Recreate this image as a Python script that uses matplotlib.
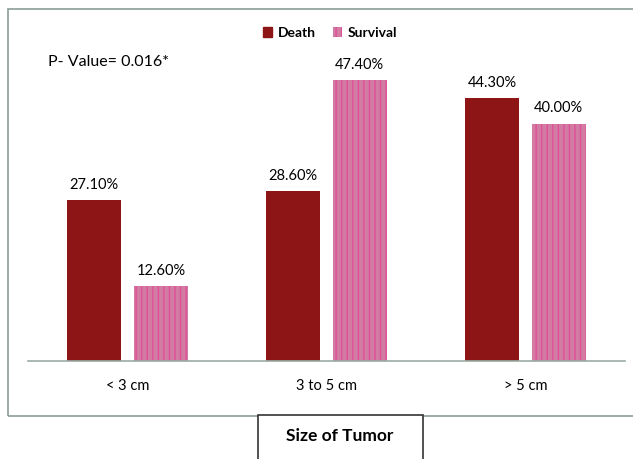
import numpy as np
import matplotlib.pyplot as plt
from matplotlib.patches import Rectangle, Patch

plt.rcParams['font.family'] = ['Lato', 'DejaVu Sans']

categories = ['< 3 cm', '3 to 5 cm', '> 5 cm']
death = [27.1, 28.6, 44.3]
survival = [12.6, 47.4, 40.0]

death_color = '#8e1515'
surv_color = '#d27ca3'
surv_stripe = '#e0509a'

fig = plt.figure(figsize=(6.33, 4.59), dpi=100)
W, H = 633, 459

# outer frame
fig.patches.append(Rectangle((8 / W, 1 - 416 / H), 1.2, 407 / H, transform=fig.transFigure,
                             fill=False, edgecolor='#8a9e96', linewidth=1.2))
# x-axis title box
fig.patches.append(Rectangle((258 / W, -0.05), 165 / W, 0.05 + 44 / H, transform=fig.transFigure,
                             facecolor='white', edgecolor='#333333', linewidth=1.2))
fig.text(340 / W, 1 - 436 / H, 'Size of Tumor', ha='center', va='center',
         fontsize=12.5, fontweight='bold')

ax = fig.add_axes([28 / W, 1 - 361 / H, 597 / W, 341 / H])
x = np.arange(len(categories))
w = 0.27
off = 0.1675
ax.bar(x - off, death, w, color=death_color)
ax.bar(x + off, survival, w, color=surv_color, hatch='|||', edgecolor=surv_stripe, linewidth=0)

for xi, d, s in zip(x, death, survival):
    ax.text(xi - off, d + 1.4, f'{d:.2f}%', ha='center', va='bottom', fontsize=10.5)
    ax.text(xi + off, s + 1.4, f'{s:.2f}%', ha='center', va='bottom', fontsize=10.5)

ax.set_xlim(-0.5, 2.5)
ax.set_ylim(0, 341 / 5.93)
ax.set_yticks([])
ax.set_xticks(x)
ax.set_xticklabels(categories, fontsize=10.5)
ax.tick_params(axis='x', length=0, pad=13)
for s in ['top', 'left', 'right']:
    ax.spines[s].set_visible(False)
ax.spines['bottom'].set_color('#9aaca4')
ax.spines['bottom'].set_linewidth(1.2)

fig.text(48 / W, 1 - 62 / H, 'P- Value= 0.016*', ha='left', va='center', fontsize=11.5)

handles = [Patch(color=death_color, label='Death'),
           Patch(facecolor=surv_color, hatch='|||', edgecolor=surv_stripe, linewidth=0, label='Survival')]
leg = fig.legend(handles=handles, loc='center', bbox_to_anchor=(330 / W, 1 - 33 / H), ncol=2,
                 frameon=False, handlelength=0.7, handleheight=0.7, handletextpad=0.4,
                 columnspacing=1.2, prop={'size': 10, 'weight': 'bold'})

fig.savefig('out.png', dpi=100)
